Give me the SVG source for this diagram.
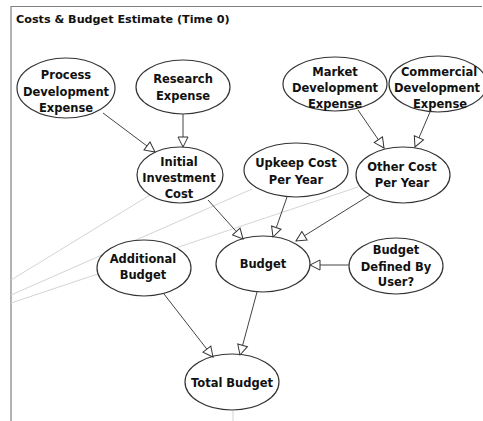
<svg xmlns="http://www.w3.org/2000/svg" width="483" height="421" viewBox="0 0 483 421">
<style>
.frame{fill:none;stroke:#808080;stroke-width:1.2}
.ghost{stroke:#d4d4d4;stroke-width:1;fill:none}
.node ellipse{fill:#fff;stroke:#333;stroke-width:1.2}
.node text{font-family:"DejaVu Sans",Verdana,sans-serif;font-weight:bold;font-size:11.5px;fill:#111;text-anchor:middle}
.title{font-family:"DejaVu Sans",Verdana,sans-serif;font-weight:bold;font-size:11.2px;fill:#111}
.edge{stroke:#444;stroke-width:1;fill:none;marker-end:url(#arr)}
</style>
<defs>
<marker id="arr" markerUnits="userSpaceOnUse" markerWidth="12" markerHeight="12" viewBox="-1 -1 12 12" refX="10" refY="5" orient="auto">
<path d="M0,0 L10,5 L0,10 Z" fill="#fff" stroke="#333" stroke-width="1"/>
</marker>
</defs>
<rect width="483" height="421" fill="#fff"/>
<path class="frame" d="M11,421 V6.5 H482"/>
<text class="title" x="16" y="23">Costs &amp; Budget Estimate (Time 0)</text>
<g id="background-lines">
<line class="ghost" x1="11" y1="280" x2="150" y2="195"/>
<line class="ghost" x1="11" y1="295" x2="252" y2="189"/>
<line class="ghost" x1="11" y1="303" x2="358" y2="187"/>
<line class="ghost" x1="233" y1="411" x2="233" y2="421"/>
</g>
<g id="n-process" class="node"><ellipse cx="66" cy="88" rx="49" ry="30"/><text x="66" y="79">Process</text><text x="66" y="96">Development</text><text x="66" y="112">Expense</text></g>
<g id="n-research" class="node"><ellipse cx="183" cy="87" rx="47" ry="27"/><text x="183" y="83">Research</text><text x="183" y="100">Expense</text></g>
<g id="n-market" class="node"><ellipse cx="335" cy="84" rx="52" ry="27"/><text x="335" y="76">Market</text><text x="335" y="92">Development</text><text x="335" y="108">Expense</text></g>
<g id="n-commercial" class="node"><ellipse cx="438" cy="84" rx="49" ry="28"/><text x="439" y="76">Commercial</text><text x="437" y="92">Development</text><text x="440" y="108">Expense</text></g>
<g id="n-initial" class="node"><ellipse cx="180" cy="175" rx="43" ry="28"/><text x="179" y="166">Initial</text><text x="179" y="182">Investment</text><text x="179" y="198">Cost</text></g>
<g id="n-upkeep" class="node"><ellipse cx="296" cy="170" rx="52" ry="27"/><text x="296" y="167">Upkeep Cost</text><text x="296" y="184">Per Year</text></g>
<g id="n-other" class="node"><ellipse cx="403" cy="175" rx="47" ry="28"/><text x="402" y="171">Other Cost</text><text x="402" y="187">Per Year</text></g>
<g id="n-additional" class="node"><ellipse cx="144" cy="268" rx="47" ry="28"/><text x="143" y="263">Additional</text><text x="143" y="279">Budget</text></g>
<g id="n-budget" class="node"><ellipse cx="263" cy="264" rx="47" ry="28"/><text x="263" y="268">Budget</text></g>
<g id="n-defined" class="node"><ellipse cx="396" cy="266" rx="47" ry="28"/><text x="396" y="254">Budget</text><text x="396" y="271">Defined By</text><text x="396" y="286">User?</text></g>
<g id="n-total" class="node"><ellipse cx="232" cy="382" rx="47" ry="28"/><text x="232" y="387">Total Budget</text></g>
<g id="connectors">
<line class="edge" x1="103" y1="113" x2="155" y2="152"/>
<line class="edge" x1="183" y1="114" x2="183" y2="147"/>
<line class="edge" x1="358" y1="110" x2="384" y2="148"/>
<line class="edge" x1="430" y1="112" x2="415" y2="147"/>
<line class="edge" x1="208" y1="200" x2="243" y2="239"/>
<line class="edge" x1="287" y1="197" x2="273" y2="237"/>
<line class="edge" x1="370" y1="195" x2="296" y2="241"/>
<line class="edge" x1="349" y1="265" x2="310" y2="265"/>
<line class="edge" x1="164" y1="294" x2="213" y2="357"/>
<line class="edge" x1="257" y1="292" x2="240" y2="355"/>
</g>
</svg>
